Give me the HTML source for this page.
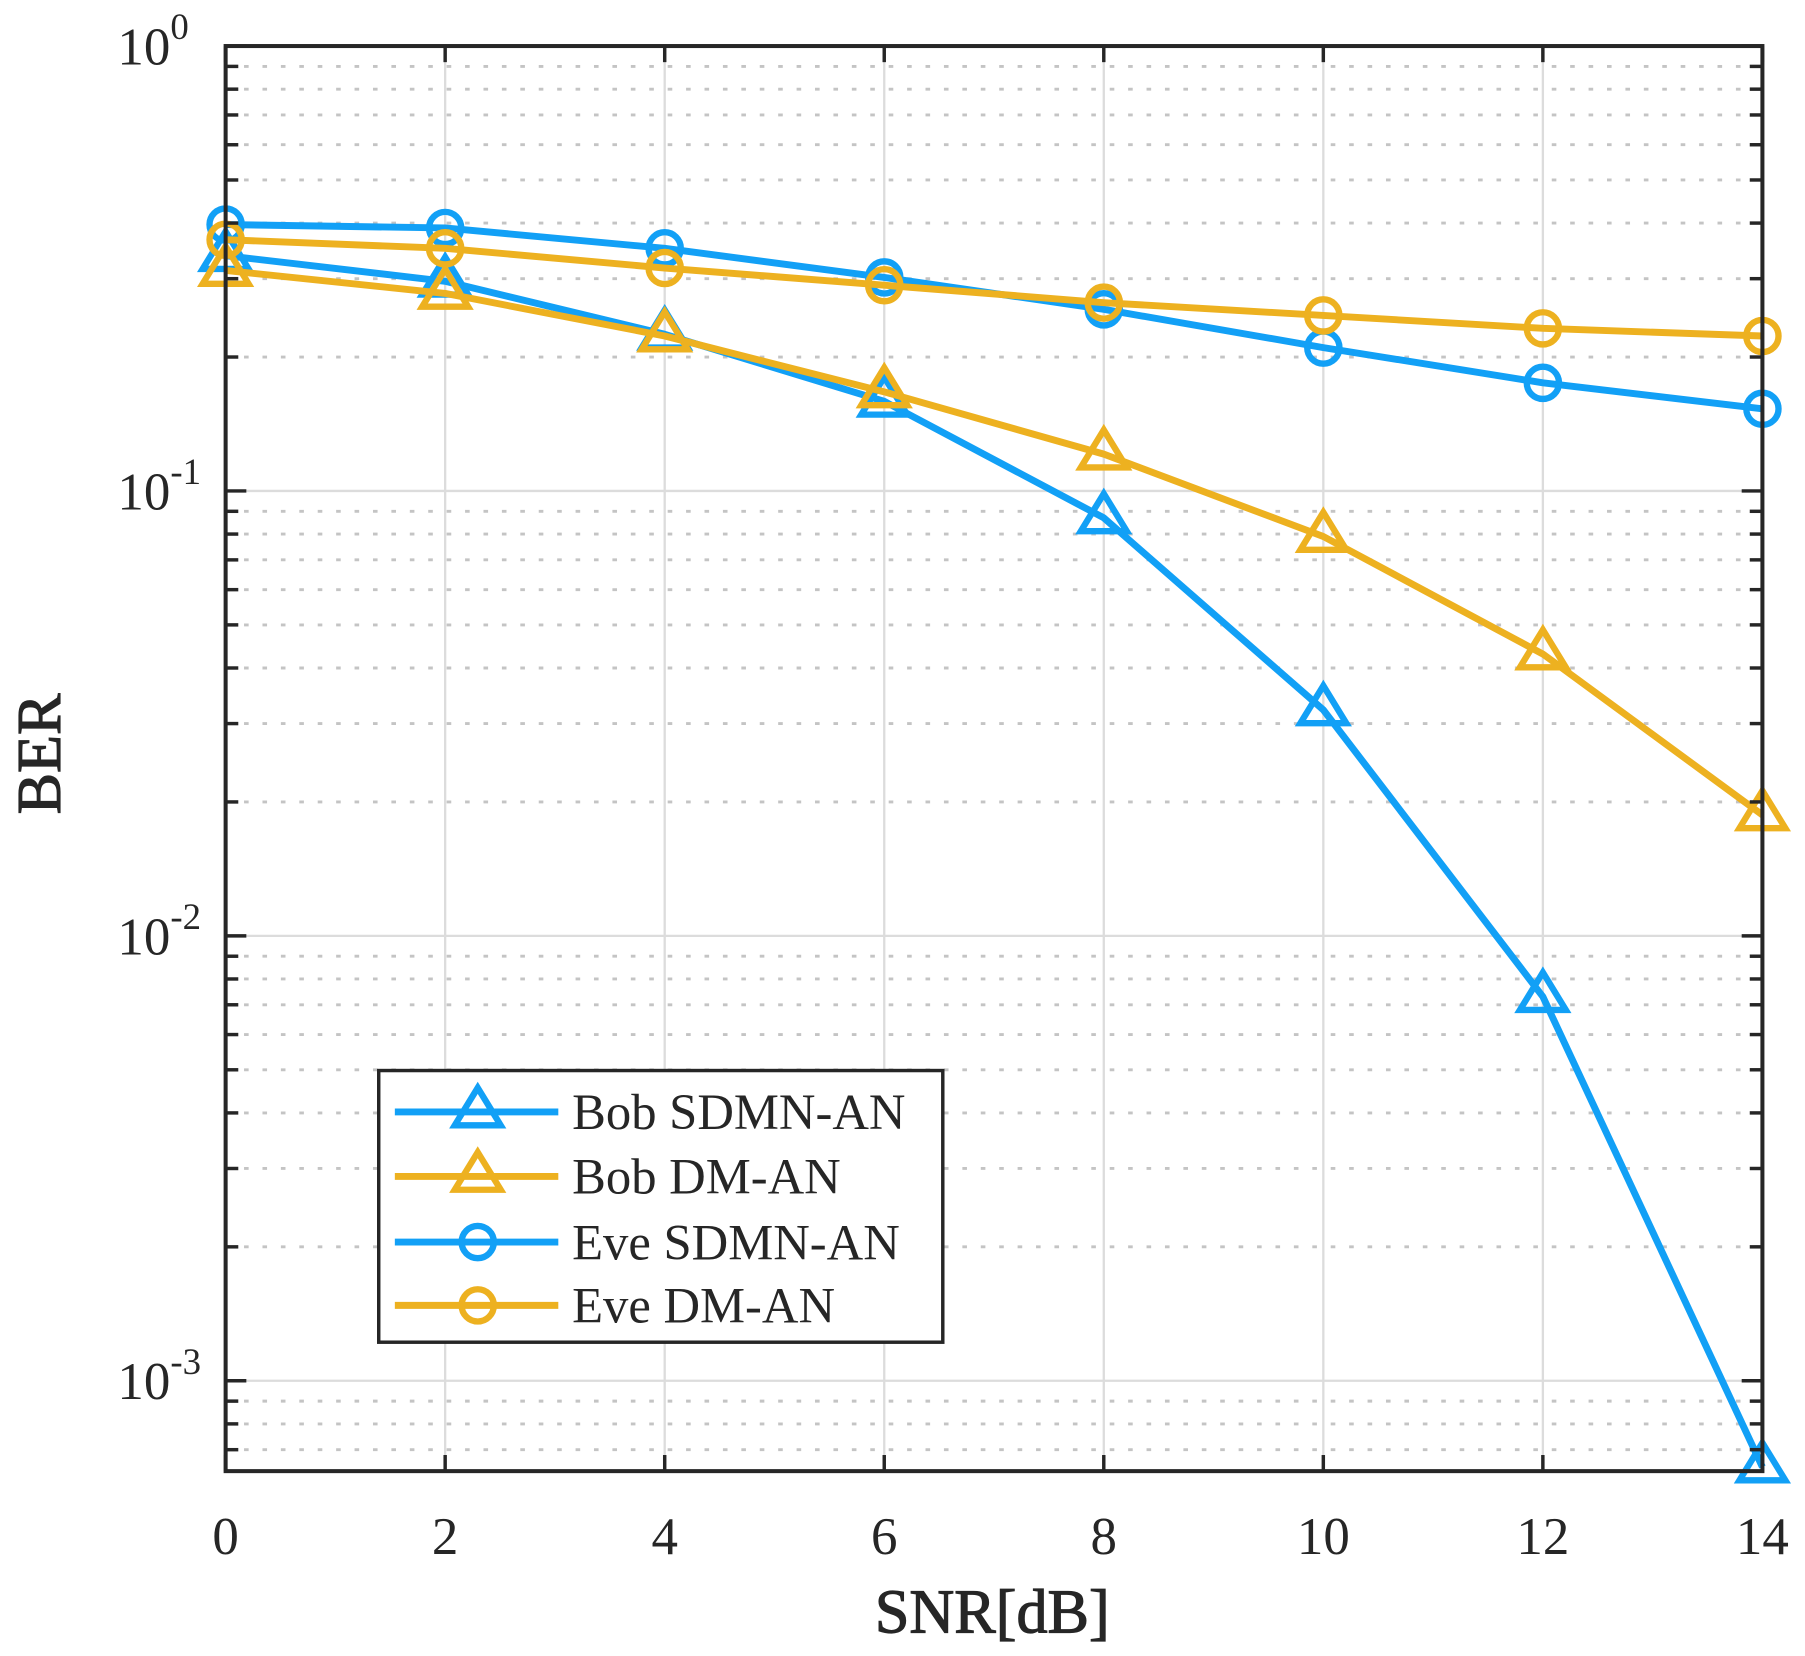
<!DOCTYPE html>
<html><head><meta charset="utf-8"><style>
html,body{margin:0;padding:0;background:#fff;}
svg{display:block;font-family:"Liberation Serif",serif;}
</style></head><body>
<svg id="chart" width="1805" height="1656" viewBox="0 0 1568 1438.6" preserveAspectRatio="none" xmlns="http://www.w3.org/2000/svg">
<g id="grid"></g>
<g id="series"></g>
<g id="axes"></g>
<g id="legend"></g>
</svg>
<script>
const snr = [0, 2, 4, 6, 8, 10, 12, 14];
const bobSDMN = [0.338, 0.296, 0.225, 0.159, 0.087, 0.0322, 0.0073, 0.00064];
const bobDM = [0.313, 0.278, 0.223, 0.167, 0.121, 0.079, 0.043, 0.0187];
const eveSDMN = [0.397, 0.39, 0.351, 0.302, 0.256, 0.21, 0.175, 0.153];
const eveDM = [0.367, 0.351, 0.317, 0.29, 0.265, 0.248, 0.232, 0.223];
const xTicks = [0, 2, 4, 6, 8, 10, 12, 14];
const yDecades = [0, -1, -2, -3];
const seriesNames = ["Bob SDMN-AN", "Bob DM-AN", "Eve SDMN-AN", "Eve DM-AN"];

const L=196, R=1531, T=40, B=1278, DEC=386.5;
const xMin=0, xMax=14;
function X(v){return L+(v-xMin)/(xMax-xMin)*(R-L);}
function Y(v){return T-Math.log10(v)*DEC;}
const NS="http://www.w3.org/2000/svg";
function mk(tag,attrs,parent){const e=document.createElementNS(NS,tag);for(const k in attrs)e.setAttribute(k,attrs[k]);parent.appendChild(e);return e;}
const grid=document.getElementById('grid'),axes=document.getElementById('axes'),ser=document.getElementById('series'),leg=document.getElementById('legend');
const BLUE="#12A0F6", ORANGE="#EDB120";

xTicks.forEach(t=>{
  const l=mk('line',{x1:X(t),x2:X(t),y1:T,y2:B,stroke:'#dcdcdc','stroke-width':2},grid);
  
  
});
yDecades.forEach(d=>{
  const y=Y(Math.pow(10,d));
  const l=mk('line',{x1:L,x2:R,y1:y,y2:y,stroke:'#dcdcdc','stroke-width':2},grid);
  
  
  for(let m=2;m<=9;m++){
    const yy=Y(m*Math.pow(10,d-1));
    if(yy>B||yy<T)continue;
    const g=mk('line',{x1:L,x2:R,y1:yy,y2:yy,stroke:'#c4c4c4','stroke-width':2.5,'stroke-dasharray':'4 12'},grid);
    
    
    [[L,L+11],[R-11,R]].forEach(p=>{const tk=mk('line',{x1:p[0],x2:p[1],y1:yy,y2:yy,stroke:'#262626','stroke-width':3},axes);
      
      });
  }
});
function tri(g,x,y,c){const s=21;mk('polygon',{points:`${x},${y-s} ${x-s*0.95},${y+s*0.55} ${x+s*0.95},${y+s*0.55}`,fill:'none',stroke:c,'stroke-width':5.5},g);}
function circ(g,x,y,c){mk('circle',{cx:x,cy:y,r:14,fill:'none',stroke:c,'stroke-width':5.5},g);}
const defs=[[bobSDMN,BLUE,tri,'bob-sdmn-an'],[bobDM,ORANGE,tri,'bob-dm-an'],[eveSDMN,BLUE,circ,'eve-sdmn-an'],[eveDM,ORANGE,circ,'eve-dm-an']];
defs.forEach(([vals,c,mf,name])=>{
  const g=mk('g',{},ser);
  
  
  const p=mk('polyline',{points:vals.map((v,i)=>X(snr[i])+','+Y(v)).join(' '),fill:'none',stroke:c,'stroke-width':6,'stroke-linejoin':'round'},g);
  
  
  vals.forEach((v,i)=>mf(g,X(snr[i]),Y(v),c));
});
const box=mk('rect',{x:L,y:T,width:R-L,height:B-T,fill:'none',stroke:'#262626','stroke-width':3.5},axes);


xTicks.forEach(t=>{
  [[B,B-14],[T,T+14]].forEach(p=>mk('line',{x1:X(t),x2:X(t),y1:p[0],y2:p[1],stroke:'#262626','stroke-width':3},axes));
  const tx=mk('text',{x:X(t),y:1350,'font-size':46,'text-anchor':'middle',fill:'#262626'},axes);
  tx.textContent=t;
  
  
});
yDecades.forEach(d=>{
  const y=Y(Math.pow(10,d));
  [[L,L+18],[R-18,R]].forEach(p=>mk('line',{x1:p[0],x2:p[1],y1:y,y2:y,stroke:'#262626','stroke-width':3},axes));
  const tx=mk('text',{x:148,y:y+16,'font-size':46,'text-anchor':'end',fill:'#262626'},axes);
  tx.textContent='10';
  
  
  const sp=mk('text',{x:148,y:y-6,'font-size':32,'text-anchor':'start',fill:'#262626'},axes);
  sp.textContent=d===0?'0':String(d);
  
  
});
const xt=mk('text',{x:862,y:1418,'font-size':54,'text-anchor':'middle',fill:'#262626','stroke':'#262626','stroke-width':1},axes);
xt.textContent='SNR[dB]';


const yt=mk('text',{x:0,y:0,'font-size':54,'text-anchor':'middle',fill:'#262626','stroke':'#262626','stroke-width':1,transform:'translate(52,655) rotate(-90)'},axes);
yt.textContent='BER';


const lb=mk('rect',{x:329,y:930,width:490,height:236,fill:'#fff',stroke:'#262626','stroke-width':3},leg);


const ly=[966,1022,1079,1134];
defs.forEach(([vals,c,mf,name],i)=>{
  const g=mk('g',{},leg);
  
  
  mk('line',{x1:343,x2:485,y1:ly[i],y2:ly[i],stroke:c,'stroke-width':6},g);
  mf(g,415,ly[i],c);
  const t=mk('text',{x:497,y:ly[i]+15,'font-size':44,fill:'#262626'},g);
  t.textContent=seriesNames[i];
});
</script>
</body></html>
